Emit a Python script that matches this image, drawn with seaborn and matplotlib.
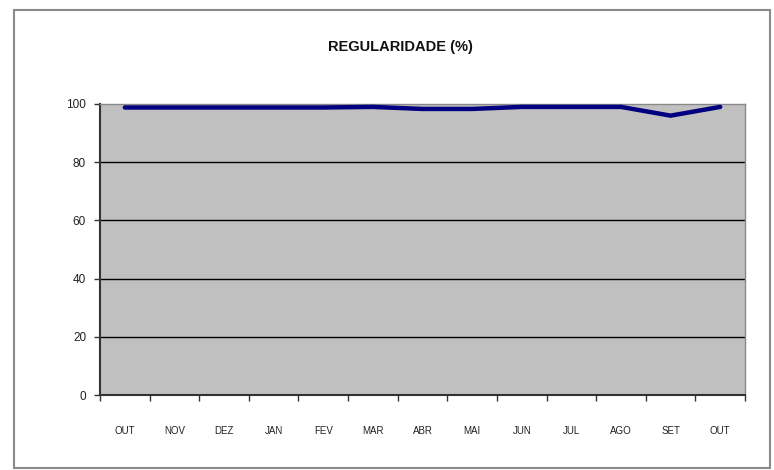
import matplotlib
matplotlib.use('Agg')
import matplotlib.pyplot as plt
import seaborn as sns
from matplotlib.patches import Rectangle

meses = ["OUT", "NOV", "DEZ", "JAN", "FEV", "MAR", "ABR", "MAI", "JUN", "JUL", "AGO", "SET", "OUT"]
regularidade = [98.8, 98.8, 98.8, 98.8, 98.8, 99.0, 98.3, 98.3, 99.0, 99.0, 99.0, 96.0, 99.0]
posicoes = list(range(len(meses)))

sns.set_style("white")
plt.rcParams['font.family'] = ['Liberation Sans', 'DejaVu Sans']

fig = plt.figure(figsize=(7.74, 4.70), dpi=100)
ax = fig.add_axes([100 / 774, 1 - 395 / 470, 645 / 774, 291 / 470])
ax.set_facecolor("#c0c0c0")

for v in [20, 40, 60, 80]:
    ax.axhline(v, color="black", lw=1, zorder=1)

sns.lineplot(x=posicoes, y=regularidade, ax=ax, color="#000080", lw=3.2, zorder=3, clip_on=False)

ax.set_ylim(0, 100)
ax.set_xlim(-0.5, len(meses) - 0.5)
ax.set_yticks([0, 20, 40, 60, 80, 100])
ax.set_yticklabels(["0", "20", "40", "60", "80", "100"], fontsize=8.5, color="#222222")
ax.set_xticks(posicoes)
ax.set_xticklabels(meses, fontsize=7, color="#222222")
ax.set_xticks([p - 0.5 for p in posicoes] + [len(meses) - 0.5], minor=True)
ax.tick_params(axis="x", which="major", bottom=True, length=0, pad=22)
ax.tick_params(axis="x", which="minor", bottom=True, length=4, width=1, color="#333333", direction="out")
ax.tick_params(axis="y", left=True, length=4, width=1, color="#333333", direction="out", pad=6)

for s in ["left", "bottom"]:
    ax.spines[s].set_color("#333333")
    ax.spines[s].set_linewidth(1.5)
for s in ["top", "right"]:
    ax.spines[s].set_color("#888888")
    ax.spines[s].set_linewidth(1)

fig.text(400 / 774, 1 - 47 / 470, "REGULARIDADE (%)", ha="center", va="center",
         fontsize=10.5, fontweight="bold", color="#111111")

fig.patches.append(Rectangle((14 / 774, 2 / 470), 756 / 774, 458 / 470, transform=fig.transFigure,
                             fill=False, edgecolor="#8a8a8a", lw=1.5))

fig.savefig("out.png", dpi=100)
plt.close()
